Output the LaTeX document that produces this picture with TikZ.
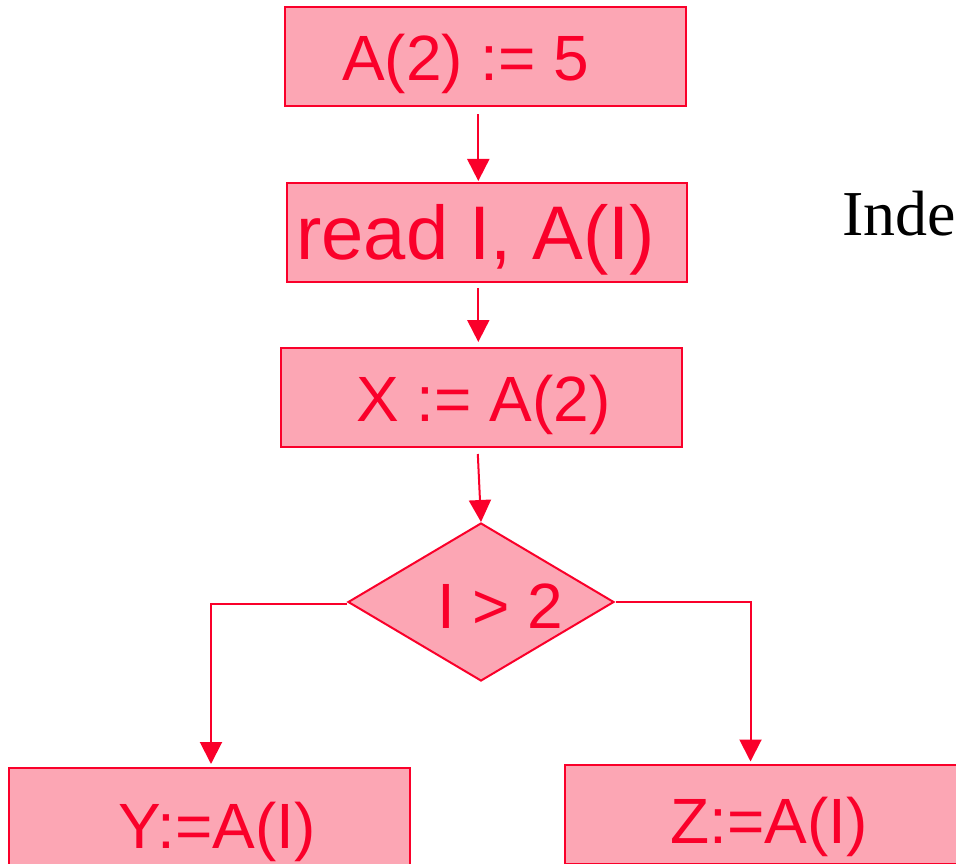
\documentclass[tikz,border=0pt]{standalone}
\usepackage{fontspec}
\setmainfont{Liberation Sans}
\newfontfamily\serifface{Liberation Serif}
\usetikzlibrary{shapes.geometric,arrows.meta,calc}
\definecolor{flowred}{RGB}{250,0,42}
\definecolor{flowfill}{RGB}{252,166,180}
\tikzset{
  box/.style={draw=flowred, fill=flowfill, line width=2pt, rectangle, inner sep=0pt,
    minimum width=401pt, minimum height=99pt},
  dia/.style={draw=flowred, fill=flowfill, line width=2pt, diamond, inner sep=0pt,
    minimum width=266pt, minimum height=158pt},
  txt/.style={text=flowred, inner sep=0pt, anchor=base west, font=\fontsize{64}{76}\selectfont},
  bigtxt/.style={txt, font=\fontsize{76}{90}\selectfont},
  arr/.style={draw=flowred, line width=2pt, -{Triangle[length=22pt,width=22pt]}},
}
\begin{document}
\begin{tikzpicture}[x=1pt,y=-1pt]
\useasboundingbox (0,0) rectangle (956,864);
\clip (0,0) rectangle (956,864);
% boxes
\node[box] (b1) at (485,57) {};
\node[box, minimum width=400pt] (b2) at (487,232.5) {};
\node[box] (b3) at (481.5,397.5) {};
\node[dia] (d) at (481,602) {};
\node[box] (bY) at (209.5,817.5) {};
\node[box] (bZ) at (765.5,814.5) {};
% texts
\node[txt] (t1) at (342,81) {A(2) := 5};
\node[bigtxt] (t2) at (296,259) {read I, A(I)};
\node[txt] (t3) at (356,421) {X := A(2)};
\node[txt] (t4) at (437,628) {I > 2};
\node[txt] (t5) at (118,848) {Y:=A(I)};
\node[txt] (t6) at (670,843) {Z:=A(I)};
\node[anchor=base west, inner sep=0pt, font=\serifface\fontsize{64}{76}\selectfont] (side) at (842,235) {Inde};
% connectors
\coordinate (ax) at (478.3,0);
\draw[arr, shorten <=7pt] (b1.south -| ax) -- ([yshift=1pt]b2.north -| ax);
\draw[arr, shorten <=5pt] (b2.south -| ax) -- ([yshift=5pt]b3.north -| ax);
\draw[arr] ([shift={(-3.7,6)}]b3.south) -- (d.north);
\draw[arr] ([yshift=-2pt]d.west) -| ([xshift=1.5pt,yshift=3pt]bY.north);
\draw[arr] ([xshift=1pt]d.east) -| ([xshift=-15pt,yshift=2.5pt]bZ.north);
\end{tikzpicture}
\end{document}
